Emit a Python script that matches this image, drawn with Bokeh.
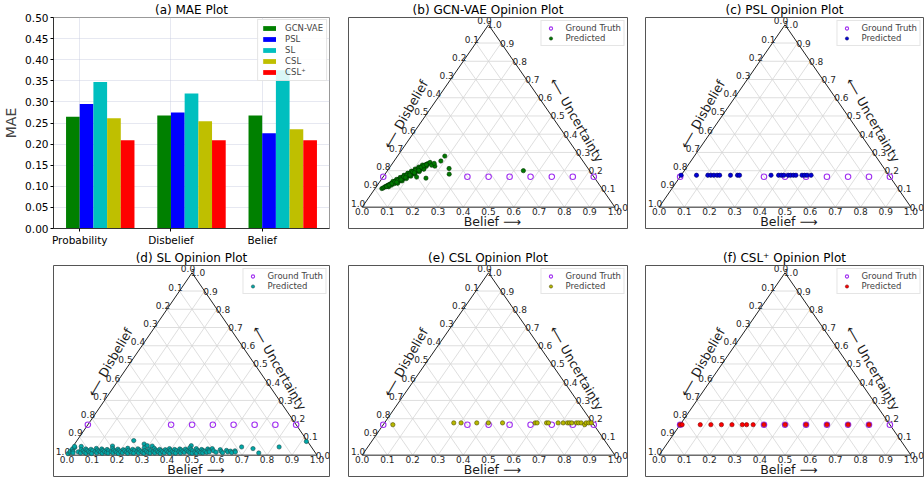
import numpy as np
from bokeh.plotting import figure
from bokeh.layouts import gridplot
from bokeh.models import FixedTicker, Range1d, NumeralTickFormatter
from bokeh.core.properties import value
from bokeh.embed import file_html
from bokeh.resources import INLINE

FONT = "DejaVu Sans"

# ---------------- (a) MAE bar chart data ----------------
categories = ["Probability", "Disbelief", "Belief"]
methods = ["GCN-VAE", "PSL", "SL", "CSL", "CSL\u207a"]
method_colors = ["#008000", "#0000ff", "#00bfbf", "#bfbf00", "#ff0000"]
mae_gcn_vae = [0.265, 0.268, 0.268]
mae_psl = [0.295, 0.275, 0.226]
mae_sl = [0.347, 0.320, 0.375]
mae_csl = [0.261, 0.254, 0.235]
mae_csl_plus = [0.209, 0.209, 0.209]
mae_ticks = [0.00, 0.05, 0.10, 0.15, 0.20, 0.25, 0.30, 0.35, 0.40, 0.45, 0.50]

# ---------------- ternary tick labels ----------------
tri_tick_values = [0.0, 0.1, 0.2, 0.3, 0.4, 0.5, 0.6, 0.7, 0.8, 0.9, 1.0]
tri_tick_labels = ["0.0", "0.1", "0.2", "0.3", "0.4", "0.5", "0.6", "0.7", "0.8", "0.9", "1.0"]

# ---------------- ground truth opinions (belief, uncertainty) ----------------
gt_belief = [0.0, 0.333, 0.417, 0.500, 0.583, 0.667, 0.750, 0.833]
gt_uncertainty = [0.167, 0.167, 0.167, 0.167, 0.167, 0.167, 0.167, 0.167]

# ---------------- (b) GCN-VAE predicted ----------------
gcn_belief = [
    0.027, 0.031, 0.034, 0.038, 0.041, 0.045, 0.048, 0.052, 0.055, 0.059, 0.063, 0.066,
    0.070, 0.073, 0.077, 0.080, 0.084, 0.087, 0.091, 0.095, 0.098, 0.102, 0.105, 0.109,
    0.112, 0.116, 0.119, 0.123, 0.127, 0.130, 0.134, 0.137, 0.141, 0.146,
    0.049, 0.056, 0.063, 0.071, 0.078, 0.085, 0.092, 0.099, 0.106, 0.113, 0.120, 0.127,
    0.135, 0.142,
    0.051, 0.060, 0.069, 0.078, 0.087, 0.096, 0.105, 0.114, 0.123,
    0.075, 0.086, 0.097, 0.108, 0.118, 0.129, 0.140,
    0.040, 0.046, 0.053, 0.060, 0.067, 0.074, 0.081, 0.089, 0.096, 0.103, 0.110, 0.117,
    0.124, 0.131, 0.138,
    0.068, 0.079, 0.090, 0.101, 0.112, 0.123,
    0.187, 0.185, 0.175, 0.238, 0.254, 0.133, 0.173, 0.538, 0.160, 0.165,
]
gcn_uncertainty = [
    0.102, 0.106, 0.111, 0.115, 0.119, 0.123, 0.128, 0.132, 0.136, 0.141, 0.145, 0.149,
    0.153, 0.158, 0.162, 0.166, 0.171, 0.175, 0.179, 0.184, 0.188, 0.192, 0.196, 0.201,
    0.205, 0.209, 0.214, 0.218, 0.222, 0.226, 0.231, 0.235, 0.239, 0.245,
    0.112, 0.121, 0.129, 0.138, 0.146, 0.155, 0.164, 0.172, 0.181, 0.189, 0.198, 0.207,
    0.215, 0.224,
    0.141, 0.152, 0.163, 0.175, 0.186, 0.197, 0.209, 0.220, 0.231,
    0.131, 0.144, 0.157, 0.170, 0.182, 0.195, 0.208,
    0.113, 0.121, 0.130, 0.139, 0.148, 0.157, 0.166, 0.175, 0.184, 0.193, 0.202, 0.211,
    0.219, 0.227, 0.233,
    0.137, 0.150, 0.163, 0.176, 0.189, 0.202,
    0.280, 0.253, 0.225, 0.212, 0.181, 0.165, 0.159, 0.200, 0.230, 0.240,
]

# ---------------- (c) PSL predicted ----------------
psl_belief = [0.0, 0.061, 0.106, 0.118, 0.130, 0.143, 0.153, 0.196, 0.224, 0.232, 0.357,
              0.387, 0.398, 0.408, 0.425, 0.435, 0.446, 0.456, 0.480, 0.490, 0.500, 0.516]
psl_uncertainty = [0.175, 0.175, 0.175, 0.175, 0.175, 0.175, 0.175, 0.175, 0.175, 0.175, 0.175,
                   0.175, 0.175, 0.175, 0.175, 0.175, 0.175, 0.175, 0.175, 0.175, 0.175, 0.175]

# ---------------- (d) SL predicted ----------------
sl_belief = [
    0.000, 0.004, 0.002, 0.008, 0.005, 0.010, 0.006, 0.014, 0.018,
    0.033, 0.157, 0.227, 0.278, 0.295, 0.316, 0.471, 0.563, 0.676, 0.726, 0.761, 0.826, 0.920,
    0.036, 0.042, 0.048, 0.053, 0.058, 0.062, 0.067, 0.071, 0.076, 0.080, 0.085, 0.090,
    0.094, 0.099, 0.103, 0.108, 0.113, 0.117, 0.122, 0.126, 0.131, 0.136, 0.140, 0.145,
    0.150, 0.154, 0.159, 0.164, 0.168, 0.173, 0.178, 0.182, 0.187, 0.191, 0.196, 0.201,
    0.205, 0.210, 0.215, 0.219, 0.224, 0.229, 0.233, 0.238, 0.243, 0.247, 0.252, 0.257,
    0.261, 0.266, 0.271, 0.275, 0.280, 0.285, 0.289, 0.294, 0.299, 0.303, 0.308, 0.313,
    0.317, 0.322, 0.327, 0.331, 0.336, 0.341, 0.345, 0.350, 0.355, 0.359, 0.364, 0.369,
    0.373, 0.378, 0.383, 0.387, 0.392, 0.397, 0.401, 0.406, 0.411, 0.415, 0.420, 0.425,
    0.429, 0.434, 0.439, 0.443, 0.448, 0.453, 0.457, 0.462, 0.467, 0.471, 0.476, 0.481,
    0.485, 0.490, 0.495, 0.499, 0.504, 0.509, 0.513, 0.518, 0.523, 0.527, 0.532, 0.537,
    0.541, 0.546, 0.551, 0.555, 0.560, 0.574, 0.588, 0.598, 0.607, 0.616, 0.625, 0.634,
    0.643, 0.652, 0.660, 0.665,
]
sl_uncertainty = [
    0.008, 0.015, 0.022, 0.028, 0.035, 0.042, 0.048, 0.020, 0.012,
    0.048, 0.050, 0.080, 0.061, 0.052, 0.050, 0.052, 0.036, 0.045, 0.036, 0.012, 0.045, 0.075,
    0.018, 0.030, 0.012, 0.024, 0.034, 0.015, 0.027, 0.010, 0.020, 0.032, 0.014, 0.025,
    0.009, 0.037, 0.019, 0.028, 0.012, 0.022, 0.034, 0.016, 0.026, 0.010, 0.020, 0.031,
    0.014, 0.024, 0.011, 0.036, 0.018, 0.028, 0.012, 0.022, 0.033, 0.015, 0.025, 0.009,
    0.019, 0.030, 0.013, 0.024, 0.038, 0.016, 0.027, 0.010, 0.020, 0.032, 0.014, 0.025,
    0.011, 0.035, 0.018, 0.028, 0.012, 0.022, 0.040, 0.015, 0.026, 0.010, 0.020, 0.033,
    0.014, 0.024, 0.011, 0.037, 0.018, 0.028, 0.012, 0.022, 0.032, 0.015, 0.025, 0.009,
    0.019, 0.030, 0.013, 0.024, 0.036, 0.016, 0.027, 0.010, 0.020, 0.031, 0.014, 0.025,
    0.011, 0.034, 0.018, 0.028, 0.012, 0.022, 0.033, 0.015, 0.025, 0.040, 0.019, 0.030,
    0.013, 0.024, 0.011, 0.036, 0.016, 0.027, 0.010, 0.020, 0.031, 0.014, 0.025, 0.012,
    0.022, 0.034, 0.015, 0.026, 0.018, 0.024, 0.016, 0.030, 0.020, 0.013, 0.026, 0.018,
    0.022, 0.014, 0.024, 0.017,
]

# ---------------- (e) CSL predicted ----------------
csl_belief = [0.038, 0.274, 0.303, 0.365, 0.411, 0.467, 0.596, 0.604, 0.641, 0.649, 0.687,
              0.707, 0.724, 0.732, 0.741, 0.759, 0.768, 0.778, 0.797, 0.798, 0.808, 0.818]
csl_uncertainty = [0.167, 0.177, 0.177, 0.177, 0.177, 0.177, 0.177, 0.177, 0.177, 0.177, 0.177,
                   0.177, 0.177, 0.177, 0.177, 0.177, 0.177, 0.177, 0.167, 0.177, 0.177, 0.177]

# ---------------- (f) CSL+ predicted ----------------
cslp_belief = [0.0, 0.008, 0.080, 0.122, 0.164, 0.206, 0.247, 0.264, 0.290,
               0.333, 0.417, 0.500, 0.583, 0.667, 0.750]
cslp_uncertainty = [0.167, 0.167, 0.167, 0.167, 0.167, 0.167, 0.167, 0.167, 0.167,
                    0.167, 0.167, 0.167, 0.167, 0.167, 0.167]

GT_COLOR = "#a030f0"
TOP_H = 248
BOT_H = 234


def to_xy(b, u):
    """Project (belief, uncertainty) onto the ternary triangle."""
    b = np.asarray(b, dtype=float)
    u = np.asarray(u, dtype=float)
    return b + u / 2.0, u


def style_title(p, text):
    p.title.text = text
    p.title.align = "center"
    p.title.text_font = FONT
    p.title.text_font_size = "12px"
    p.title.text_font_style = "normal"
    p.title.text_color = "black"
    p.title.standoff = 1
    p.title.offset = 0


def style_legend(p):
    lg = p.legend[0]
    lg.location = "top_right"
    lg.label_text_font = FONT
    lg.label_text_font_size = "8.5px"
    lg.label_height = 8
    lg.glyph_height = 8
    lg.glyph_width = 14
    lg.label_standoff = 8
    lg.spacing = 0
    lg.padding = 2
    lg.margin = 3
    lg.border_line_color = "#cccccc"
    lg.border_line_width = 1
    lg.background_fill_alpha = 0.85


def make_bar(width, height, left, right, top, bottom):
    p = figure(width=width, height=height, x_range=Range1d(-0.2875, 2.7375), y_range=Range1d(0, 0.5),
               toolbar_location=None, output_backend="svg",
               min_border_left=left, min_border_right=right, min_border_top=top, min_border_bottom=bottom)
    style_title(p, "(a) MAE Plot")
    series = [mae_gcn_vae, mae_psl, mae_sl, mae_csl, mae_csl_plus]
    cat_idx = np.arange(len(categories), dtype=float)
    for i, (vals, name, col) in enumerate(zip(series, methods, method_colors)):
        p.vbar(x=cat_idx + (i - 0.5) * 0.15, top=vals, width=0.15, fill_color=col,
               line_color=None, legend_label=name)
    p.xaxis.ticker = FixedTicker(ticks=list(cat_idx))
    p.xaxis.major_label_overrides = {float(i): c for i, c in enumerate(categories)}
    p.yaxis.ticker = FixedTicker(ticks=mae_ticks)
    p.yaxis.formatter = NumeralTickFormatter(format="0.00")
    p.yaxis.axis_label = "MAE"
    p.yaxis.axis_label_text_font = FONT
    p.yaxis.axis_label_text_font_size = "14px"
    p.yaxis.axis_label_text_font_style = "normal"
    p.yaxis.axis_label_standoff = 3
    for ax in (p.xaxis, p.yaxis):
        ax.major_label_text_font = FONT
        ax.major_label_text_font_size = "10.5px"
        ax.major_label_text_color = "black"
        ax.major_tick_out = 3
        ax.major_tick_in = 0
        ax.minor_tick_out = 0
        ax.minor_tick_in = 0
        ax.major_label_standoff = 2
        ax.axis_line_color = "#333333"
    p.grid.grid_line_color = "#c8cce0"
    p.grid.grid_line_alpha = 0.45
    p.outline_line_color = "#999999"
    style_legend(p)
    p.legend[0].glyph_height = 6
    p.legend[0].glyph_width = 16
    p.legend[0].label_height = 9
    p.legend[0].spacing = 1
    p.legend[0].padding = 3
    p.legend[0].margin = 2
    return p


def ternary(title, pb, pu, fill, edge, width, height, left, right, top, bottom):
    p = figure(width=width, height=height, x_range=Range1d(-0.054, 1.05), y_range=Range1d(-0.117, 1.04),
               x_axis_location=None, y_axis_location=None, toolbar_location=None, output_backend="svg",
               min_border_left=left, min_border_right=right, min_border_top=top, min_border_bottom=bottom)
    style_title(p, title)
    p.grid.visible = False
    p.outline_line_color = "#555555"

    tv = np.asarray(tri_tick_values, dtype=float)
    inner = tv[1:-1]
    xs, ys = [], []
    for t in inner:
        xs.append([t / 2, 1 - t / 2]); ys.append([t, t])            # constant uncertainty
        xs.append([t, t + (1 - t) / 2]); ys.append([0, 1 - t])      # constant belief
        xs.append([1 - t, (1 - t) / 2]); ys.append([0, 1 - t])      # constant disbelief
    p.multi_line(xs, ys, line_color="#d6d6d6", line_width=0.8)
    p.line([0, 1, 0.5, 0], [0, 0, 1, 0], line_color="#222222", line_width=1)

    tkw = dict(text_font=value(FONT), text_font_size="9px", text_color="#262626",
               text_align="center", text_baseline="middle")
    # belief (bottom)
    p.text(x=tv, y=np.zeros_like(tv), text=tri_tick_labels, y_offset=4, **tkw)
    # disbelief (left edge): value d lies at u = 1 - d on the left edge
    p.text(x=(1 - tv) / 2, y=1 - tv, text=tri_tick_labels, x_offset=-4, y_offset=-4, **tkw)
    # uncertainty (right edge)
    p.text(x=1 - tv / 2, y=tv, text=tri_tick_labels, x_offset=6, **tkw)

    akw = dict(text_font=value(FONT), text_font_size="12.5px", text_color="#1a1a1a",
               text_align="center", text_baseline="middle")
    p.text(x=[0.515], y=[-0.079], text=["Belief \u27f6"], **akw)
    p.text(x=[0.172], y=[0.51], text=["\u27f5 Disbelief"], angle=60, angle_units="deg", **akw)
    p.text(x=[0.849], y=[0.478], text=["\u27f5 Uncertainty"], angle=-60, angle_units="deg", **akw)

    gx, gy = to_xy(gt_belief, gt_uncertainty)
    p.scatter(gx, gy, size=5.5, fill_color=None, line_color=GT_COLOR, line_width=1.1,
              legend_label="Ground Truth")
    px, py = to_xy(pb, pu)
    p.scatter(px, py, size=4.3, fill_color=fill, line_color=edge, line_width=0.6,
              legend_label="Predicted")
    style_legend(p)
    return p


pa = make_bar(338, TOP_H, 50, 9, 15, 16)
pb = ternary("(b) GCN-VAE Opinion Plot", gcn_belief, gcn_uncertainty, "#007a00", "#003300",
             298, TOP_H, 10, 9, 15, 16)
pc = ternary("(c) PSL Opinion Plot", psl_belief, psl_uncertainty, "#0000d8", "#000066",
             288, TOP_H, 9, 1, 15, 16)
pd_ = ternary("(d) SL Opinion Plot", sl_belief, sl_uncertainty, "#00a8a8", "#1f4f4f",
              338, BOT_H, 50, 9, 16, 6)
pe = ternary("(e) CSL Opinion Plot", csl_belief, csl_uncertainty, "#b8b800", "#4d4d00",
             298, BOT_H, 10, 9, 16, 6)
pf = ternary("(f) CSL\u207a Opinion Plot", cslp_belief, cslp_uncertainty, "#ff0000", "#7a0000",
             288, BOT_H, 9, 1, 16, 6)

grid = gridplot([[pa, pb, pc], [pd_, pe, pf]], toolbar_location=None)

open("out.html", "w").write(file_html(grid, INLINE))
